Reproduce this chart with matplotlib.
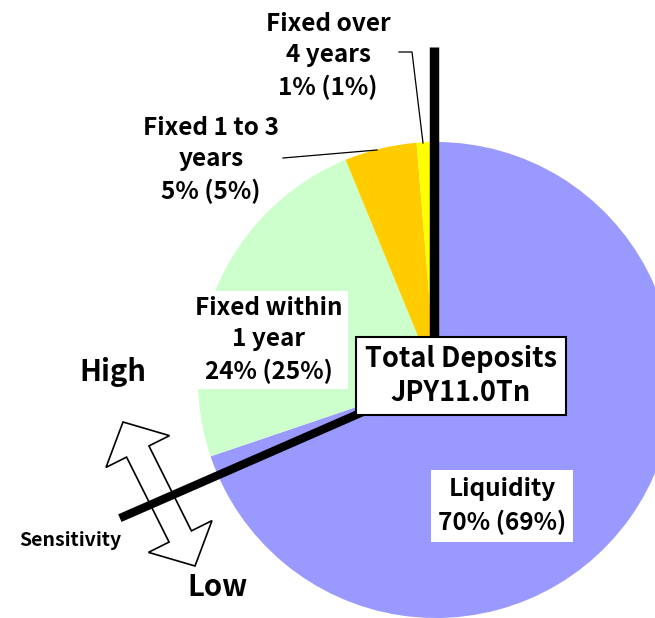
import numpy as np
import matplotlib
matplotlib.use("Agg")
import matplotlib.pyplot as plt
from matplotlib.patches import Polygon

plt.rcParams['font.family'] = ['Noto Sans CJK JP', 'DejaVu Sans']

# deposit breakdown: slice sizes, shown rounded,
# previous period share in brackets
categories = ["Liquidity", "Fixed within\n1 year", "Fixed 1 to 3\nyears", "Fixed over\n4 years"]
shares = [69.8, 24.0, 4.9, 1.3]
prev_shares = [69, 25, 5, 1]
colors = ["#9999FF", "#CCFFCC", "#FFCC00", "#FFFF00"]
total_label = "Total Deposits\nJPY11.0Tn"

W, H = 655, 618
fig = plt.figure(figsize=(W / 100, H / 100), dpi=100)
ax = fig.add_axes([0, 0, 1, 1])

def img(x, y):
    # image pixel coords (y down) -> axes coords (y up)
    return x, H - y

cx, cy = img(436, 380)
R = 238
ax.pie(shares, colors=colors, startangle=90, counterclock=False,
       center=(cx, cy), radius=R, wedgeprops=dict(linewidth=0))

ax.set_xlim(0, W)
ax.set_ylim(0, H)
ax.set_aspect("equal")
ax.axis("off")

labels = [f"{c}\n{round(s)}% ({p}%)" for c, s, p in zip(categories, shares, prev_shares)]

# sensitivity axis: vertical line up and a slanted one down to the left
lx = 434
ax.plot([lx, lx], [cy, H - 47], color="black", lw=6.8, solid_capstyle="butt", zorder=3)
ang = np.deg2rad(180 + 23.6)
L = 345
ax.plot([cx, cx + L * np.cos(ang)], [cy, cy + L * np.sin(ang)],
        color="black", lw=6.0, solid_capstyle="butt", zorder=5)

# leader lines
ax.plot(*zip(img(399, 52), img(412, 52), img(423, 143)), color="black", lw=0.9, zorder=3)
ax.plot(*zip(img(283, 158), img(377, 150)), color="black", lw=0.9, zorder=3)

fs = 17.5
ls = 1.4
ax.text(*img(328, 56), labels[3], ha="center", va="center", fontsize=fs,
        fontweight="bold", linespacing=ls, zorder=6)
ax.text(*img(211, 160), labels[2], ha="center", va="center", fontsize=fs,
        fontweight="bold", linespacing=ls, zorder=6)
ax.text(*img(269, 340), labels[1], ha="center", va="center", fontsize=fs,
        fontweight="bold", linespacing=ls, zorder=6,
        bbox=dict(boxstyle="square,pad=0.2", fc="white", ec="none"))
ax.text(*img(502, 506), labels[0], ha="center", va="center", fontsize=fs,
        fontweight="bold", linespacing=ls, zorder=6,
        bbox=dict(boxstyle="square,pad=0.3", fc="white", ec="none"))
ax.text(*img(461, 376), total_label, ha="center", va="center", fontsize=19.5,
        fontweight="bold", linespacing=1.25, zorder=7,
        bbox=dict(boxstyle="square,pad=0.32", fc="white", ec="black", lw=1.5))

# double-headed sensitivity arrow
t1 = np.array(img(123, 422), dtype=float)
t2 = np.array(img(195, 566), dtype=float)
d = (t2 - t1) / np.linalg.norm(t2 - t1)
n = np.array([-d[1], d[0]])
hl, hw, sw = 33, 71, 25
b1 = t1 + d * hl
b2 = t2 - d * hl
pts = [t1, b1 + n * hw / 2, b1 + n * sw / 2, b2 + n * sw / 2, b2 + n * hw / 2, t2,
       b2 - n * hw / 2, b2 - n * sw / 2, b1 - n * sw / 2, b1 - n * hw / 2]
ax.add_patch(Polygon(pts, closed=True, fc="white", ec="black", lw=1.2, zorder=4))

ax.text(*img(113, 372), "High", ha="center", va="center", fontsize=21, fontweight="bold")
ax.text(*img(218, 587), "Low", ha="center", va="center", fontsize=21, fontweight="bold")
ax.text(*img(70, 540), "Sensitivity", ha="center", va="center", fontsize=14, fontweight="bold")

fig.savefig("out.png", dpi=100)
